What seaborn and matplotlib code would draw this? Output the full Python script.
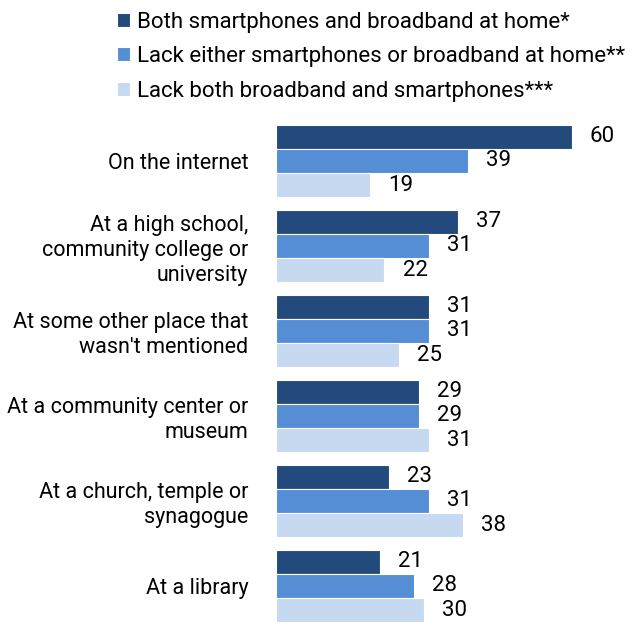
import matplotlib
matplotlib.use("Agg")
import matplotlib.pyplot as plt
import seaborn as sns
import pandas as pd

categories = [
    "On the internet",
    "At a high school,\ncommunity college or\nuniversity",
    "At some other place that\nwasn't mentioned",
    "At a community center or\nmuseum",
    "At a church, temple or\nsynagogue",
    "At a library",
]
series = [
    "Both smartphones and broadband at home*",
    "Lack either smartphones or broadband at home**",
    "Lack both broadband and smartphones***",
]
both = [60, 37, 31, 29, 23, 21]
lack_either = [39, 31, 31, 29, 31, 28]
lack_both = [19, 22, 25, 31, 38, 30]
colors = ["#234a7c", "#558ed5", "#c6d9f0"]

rows = []
for s, vals in zip(series, [both, lack_either, lack_both]):
    for c, v in zip(categories, vals):
        rows.append({"category": c, "series": s, "value": v})
df = pd.DataFrame(rows)

sns.set_theme(style="white")
plt.rcParams["font.family"] = ["Roboto", "DejaVu Sans"]
plt.rcParams["text.color"] = "black"
plt.rcParams["ytick.color"] = "black"

fig = plt.figure(figsize=(6.44, 6.26), dpi=100)
W, H = 644, 626
ax = fig.add_axes([276 / W, 0, 368 / W, 511 / H])

sns.barplot(data=df, y="category", x="value", hue="series", orient="h",
            palette=colors, saturation=1, width=0.85, ax=ax,
            edgecolor="white", linewidth=0.8,
            order=categories, hue_order=series)

for cont in ax.containers:
    ax.bar_label(cont, padding=13, fontsize=16, color="black")

ax.set_xlim(0, 368 / 4.93)
ax.set_ylim(-0.541 + 511 / 85, -0.541)
ax.set_xlabel("")
ax.set_ylabel("")
ax.set_xticks([])
ax.tick_params(axis="y", length=0, pad=20, labelsize=15.5, labelcolor="black")
for lab in ax.get_yticklabels():
    lab.set_horizontalalignment("right")
    lab.set_multialignment("right")
    lab.set_linespacing(1.25)
sns.despine(ax=ax, left=True, bottom=True)

handles, labels = ax.get_legend_handles_labels()
ax.get_legend().remove()
fig.legend(handles, labels, loc="upper left", bbox_to_anchor=(108 / W, 1 - 3 / H),
           frameon=False, fontsize=16, handlelength=0.6, handleheight=0.6,
           handletextpad=0.3, labelspacing=0.6, borderaxespad=0,
           labelcolor="black")

fig.savefig("out.png", dpi=100)
